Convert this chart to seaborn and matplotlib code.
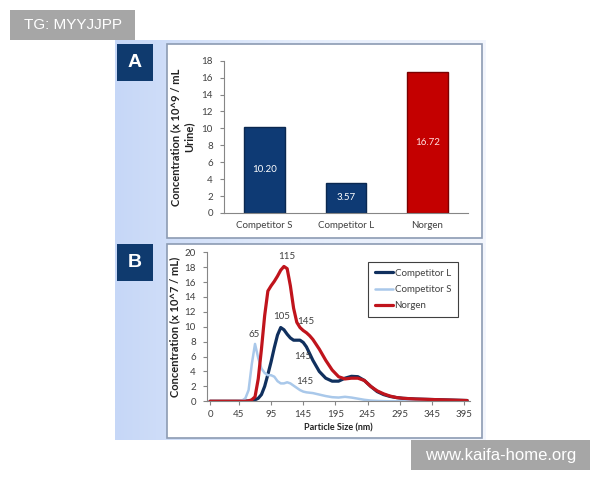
import numpy as np
import pandas as pd
import matplotlib
matplotlib.use('Agg')
import matplotlib.pyplot as plt
from matplotlib.patches import Rectangle
from matplotlib.colors import LinearSegmentedColormap
import seaborn as sns

sns.set_style('white')
plt.rcParams['font.family'] = ['Lato', 'DejaVu Sans']

# panel A: concentration per product
cats = ['Competitor S', 'Competitor L', 'Norgen']
conc = [10.20, 3.57, 16.72]
bar_colors = ['#0e3a74', '#0e3a74', '#c40000']
bar_edges = ['#0a2850', '#0a2850', '#7a0000']

# panel B: particle size distribution
size_nm = [0, 40, 50, 55, 60, 65, 70, 75, 80, 85, 90, 95, 100, 105, 110, 115, 120, 125,
           130, 135, 140, 145, 150, 155, 160, 170, 180, 190, 200, 210, 220, 230, 240,
           250, 260, 270, 280, 290, 300, 320, 340, 360, 380, 400]
comp_l = [0, 0, 0, 0.02, 0.05, 0.1, 0.2, 0.4, 0.9, 2.0, 3.6, 5.3, 7.2, 8.9, 9.9, 9.6, 9.0, 8.5,
          8.2, 8.2, 8.2, 7.9, 7.3, 6.4, 5.5, 4.0, 3.1, 2.7, 2.7, 3.1, 3.35, 3.3, 2.8,
          2.0, 1.3, 0.9, 0.65, 0.5, 0.4, 0.3, 0.25, 0.2, 0.15, 0.1]
comp_s = [0, 0, 0.1, 0.4, 1.5, 5.0, 7.7, 5.8, 4.4, 3.8, 3.5, 3.5, 3.3, 2.7, 2.4, 2.4, 2.55, 2.4,
          2.1, 1.8, 1.5, 1.3, 1.2, 1.15, 1.1, 0.9, 0.7, 0.55, 0.5, 0.6, 0.5, 0.35, 0.2,
          0.1, 0.05, 0.02, 0, 0, 0, 0, 0, 0, 0, 0]
norgen = [0, 0, 0, 0, 0.05, 0.2, 0.6, 3.0, 7.0, 11.5, 14.8, 15.5, 16.1, 16.8, 17.6, 18.1, 17.8, 15.5,
          12.5, 10.6, 9.9, 9.5, 9.2, 8.8, 8.3, 7.0, 5.5, 4.2, 3.3, 3.0, 3.1, 3.1, 2.8,
          2.0, 1.4, 1.0, 0.7, 0.5, 0.4, 0.3, 0.25, 0.2, 0.15, 0.1]
series_names = ['Competitor L', 'Competitor S', 'Norgen']
series_colors = ['#10305e', '#a9c8ea', '#c0141c']
series_widths = [2.3, 1.8, 2.3]

# peak labels in panel B
peak_text = ['115', '105', '145', '65', '145', '145']
peak_x = [119, 112, 149, 68, 144, 148]
peak_y = [19.5, 11.4, 10.7, 9.0, 6.0, 2.6]

xticks_b = [0, 45, 95, 145, 195, 245, 295, 345, 395]

grey = '#404040'
fig = plt.figure(figsize=(6, 4.8), dpi=100)

# light blue gradient background
bg = fig.add_axes([0.1917, 0.0833, 0.6167, 0.8333], zorder=-2)
grad = np.linspace(0, 1, 256).reshape(1, -1)
cmap = LinearSegmentedColormap.from_list('bg', ['#c6d7f7', '#e6eefc', '#f3f6fd'])
bg.imshow(grad, aspect='auto', cmap=cmap, extent=[0, 1, 0, 1])
bg.axis('off')

# white boxes for panels
for y0 in [0.5042, 0.0875]:
    fig.patches.append(Rectangle((0.2783, y0), 0.525, 0.4042, transform=fig.transFigure,
                                 facecolor='white', edgecolor='#8c9bb3', lw=1.2, zorder=-1))

# A / B labels
for y0, lab in [(0.8313, 'A'), (0.4146, 'B')]:
    fig.patches.append(Rectangle((0.195, y0), 0.06, 0.0771, transform=fig.transFigure,
                                 facecolor='#0f3a6e', edgecolor='none', zorder=2))
    fig.text(0.195 + 0.03, y0 + 0.0385, lab, color='white', fontsize=14, fontweight='bold',
             ha='center', va='center', family=['Liberation Sans', 'DejaVu Sans'], zorder=3)

# ---- panel A
axA = fig.add_axes([0.3733, 0.5563, 0.4067, 0.3173])
axA.set_facecolor('none')
sns.barplot(x=cats, y=conc, hue=cats, palette=bar_colors, width=0.5, saturation=1,
            legend=False, ax=axA)
for patch, ec in zip(axA.patches, bar_edges):
    patch.set_edgecolor(ec)
    patch.set_linewidth(1.0)
for cont, tc in zip(axA.containers, ['white', 'white', '#ffe0e0']):
    axA.bar_label(cont, fmt='%.2f', label_type='center', color=tc, fontsize=7)
axA.set_ylim(0, 18)
axA.set_xlim(-0.5, 2.5)
axA.set_yticks(range(0, 19, 2))
axA.set_xticks([-0.5, 0.5, 1.5, 2.5], minor=True)
axA.tick_params(axis='x', which='major', length=0, labelsize=7, labelcolor=grey, pad=6)
axA.tick_params(axis='x', which='minor', length=3, color='#868686', direction='out')
axA.tick_params(axis='y', length=3, color='#868686', direction='out', labelsize=7,
                labelcolor=grey, pad=5, left=True)
sns.despine(ax=axA)
for s in ['left', 'bottom']:
    axA.spines[s].set_color('#868686')
axA.set_ylabel('Concentration (x 10^9 / mL\nUrine)', fontsize=8, fontweight='bold',
               color='#222222', labelpad=5)

# ---- panel B
axB = fig.add_axes([0.345, 0.164, 0.4383, 0.3104])
axB.set_facecolor('none')
for name, vals, col, lw in zip(series_names, [comp_l, comp_s, norgen], series_colors, series_widths):
    df = pd.DataFrame({'size': size_nm, 'conc': vals})
    sns.lineplot(data=df, x='size', y='conc', color=col, lw=lw, label=name, ax=axB,
                 solid_joinstyle='round', solid_capstyle='round')
for t, x, y in zip(peak_text, peak_x, peak_y):
    axB.text(x, y, t, fontsize=7, color=grey, ha='center', va='center')
axB.set_xlim(-4.7, 404.4)
axB.set_ylim(0, 20)
axB.set_xticks(xticks_b)
axB.set_yticks(range(0, 21, 2))
axB.tick_params(axis='both', length=3, color='#868686', direction='out', labelsize=7,
                labelcolor=grey, left=True, bottom=True)
axB.tick_params(axis='y', pad=5)
sns.despine(ax=axB)
for s in ['left', 'bottom']:
    axB.spines[s].set_color('#868686')
axB.set_xlabel('Particle Size (nm)', fontsize=6.5, fontweight='bold', color='#222222', labelpad=3)
axB.set_ylabel('Concentration (x 10^7 / mL)', fontsize=8, fontweight='bold', color='#222222',
               labelpad=3)
leg = axB.legend(loc='upper right', bbox_to_anchor=(0.954, 0.935), borderaxespad=0,
                 fontsize=7, handlelength=1.9, handletextpad=0.15, labelspacing=0.75,
                 borderpad=0.7, fancybox=False, framealpha=1)
leg.get_frame().set_edgecolor(grey)
leg.get_frame().set_linewidth(0.8)
for txt in leg.get_texts():
    txt.set_color(grey)

# watermarks
for (x0, y0, w, h), t, fs in [((0.0167, 0.9167, 0.2083, 0.0625), 'TG: MYYJJPP', 11),
                              ((0.685, 0.0208, 0.2983, 0.0625), 'www.kaifa-home.org', 12)]:
    fig.patches.append(Rectangle((x0, y0), w, h, transform=fig.transFigure,
                                 facecolor='#a6a6a6', edgecolor='none', zorder=2))
    fig.text(x0 + w / 2, y0 + h / 2, t, color='white', fontsize=fs, ha='center', va='center',
             family=['Liberation Sans', 'DejaVu Sans'], zorder=3)

fig.savefig('out.png', dpi=100)
